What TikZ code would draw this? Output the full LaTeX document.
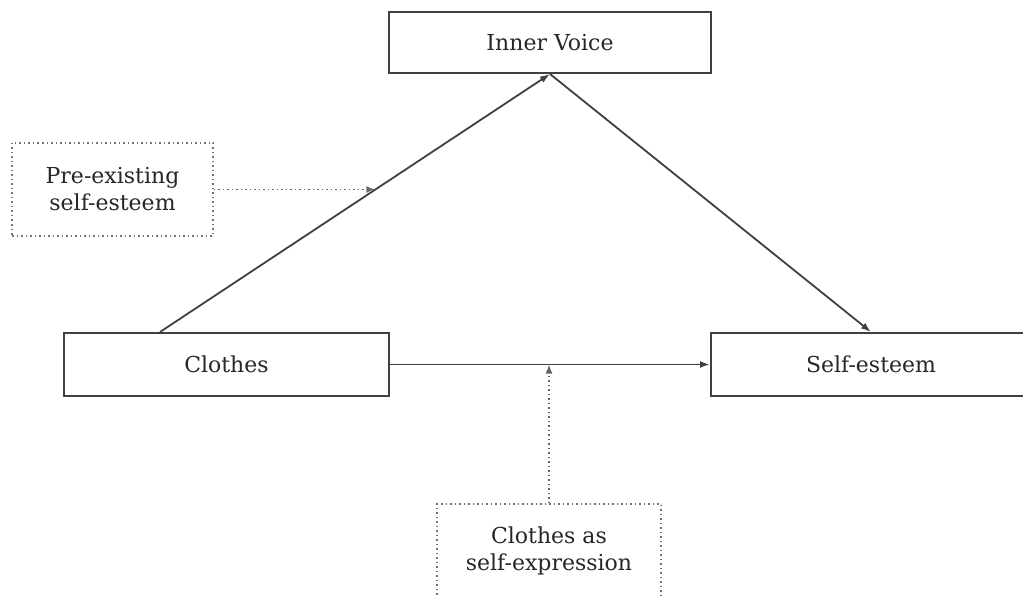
\documentclass[tikz,border=0pt]{standalone}
\usepackage{fontspec}
\setmainfont{DejaVu Serif}
\usetikzlibrary{arrows.meta}

\begin{document}
\begin{tikzpicture}[x=1pt,y=-1pt,
		box/.style={shape=rectangle,draw=black!75,line width=2pt,text=black!85,font=\fontsize{22}{27}\selectfont,align=center,inner sep=0pt},
		dotbox/.style={box,draw=black!55,line width=1.5pt,dash pattern=on 1.5pt off 3pt},
		arr/.style={draw=black!75,line width=1.8pt,-{Latex[length=10pt,width=7pt]}},
		dotarr/.style={draw=black!60,line width=1.5pt,dash pattern=on 1.5pt off 3pt,-{Latex[length=9pt,width=7pt]}}]
		\useasboundingbox (0,0) rectangle (1023,596);
		\node [box,minimum width=322pt,minimum height=61pt] (IV) at (550,42.5) {Inner Voice};
		\node [dotbox,minimum width=201pt,minimum height=93pt] (PE) at (112.5,189.5) {Pre-existing\\self-esteem};
		\node [box,minimum width=325pt,minimum height=63pt] (CL) at (226.5,364.5) {Clothes};
		\node [box,minimum width=320pt,minimum height=63pt] (SE) at (871,364.5) {Self-esteem};
		\node [dotbox,minimum width=224pt,minimum height=93pt] (CE) at (549,550.5) {Clothes as\\self-expression};
		\draw [arr] ([xshift=-66.5pt]CL.north) -- (IV.south) coordinate [pos=0.552] (M1);
		\draw [arr] (IV.south) -- (SE.north);
		\draw [arr] (CL.east) -- (SE.west);
		\draw [dotarr] (PE.east) -- (M1 |- PE.east);
		\draw [dotarr] (CE.north) -- (CE.north |- CL.east);
	\end{tikzpicture}
\end{document}
